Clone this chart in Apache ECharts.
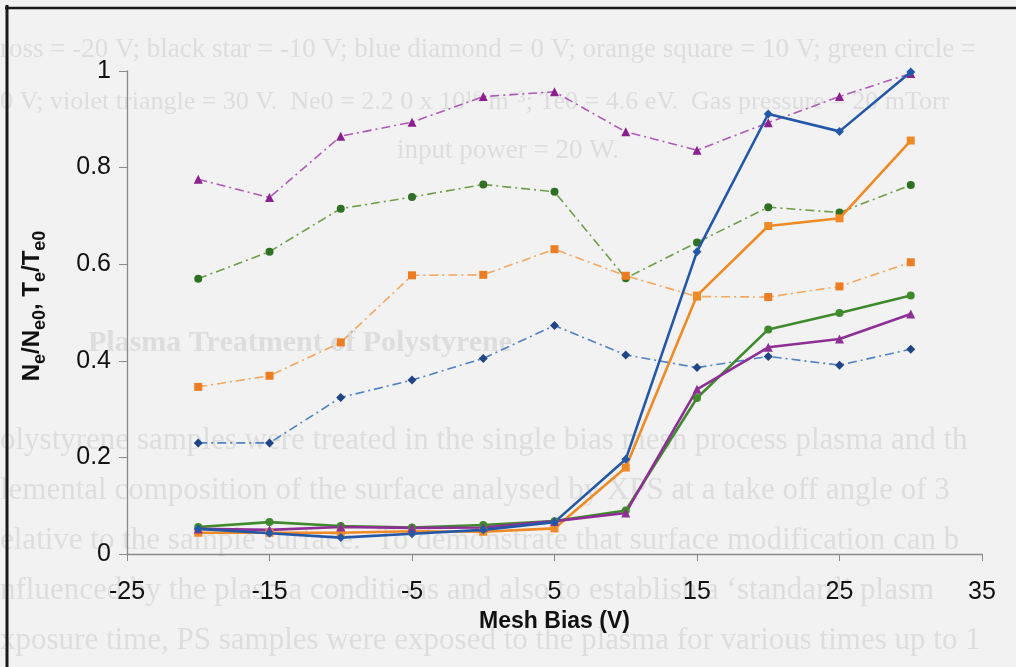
<!DOCTYPE html>
<html>
<head>
<meta charset="utf-8">
<script src="https://cdn.jsdelivr.net/npm/echarts@6/dist/echarts.min.js"></script>
<style>
html,body{margin:0;padding:0;background:#f2f2f2;}
#c{width:1016px;height:667px;}
</style>
</head>
<body>
<div id="c"></div>
<script>
var bias = [-20, -15, -10, -5, 0, 5, 10, 15, 20, 25, 30];
var xTicks = [-25, -15, -5, 5, 15, 25, 35];
var yTicks = [0, 0.2, 0.4, 0.6, 0.8, 1];

// Solid lines: Ne/Ne0
var neBlue   = [0.052, 0.043, 0.034, 0.042, 0.050, 0.066, 0.196, 0.626, 0.911, 0.875, 0.998];
var neOrange = [0.044, 0.044, 0.044, 0.047, 0.046, 0.053, 0.179, 0.535, 0.679, 0.695, 0.856];
var neGreen  = [0.056, 0.066, 0.058, 0.055, 0.060, 0.068, 0.090, 0.323, 0.465, 0.499, 0.535];
var nePurple = [0.052, 0.050, 0.056, 0.054, 0.055, 0.068, 0.085, 0.341, 0.428, 0.445, 0.497];

// Dash-dot lines: Te/Te0
var teBlue   = [0.230, 0.230, 0.324, 0.360, 0.405, 0.473, 0.412, 0.386, 0.409, 0.391, 0.424];
var teOrange = [0.346, 0.369, 0.438, 0.577, 0.578, 0.631, 0.576, 0.533, 0.532, 0.554, 0.604];
var teGreen  = [0.570, 0.626, 0.715, 0.739, 0.765, 0.750, 0.571, 0.645, 0.718, 0.707, 0.764];
var tePurple = [0.776, 0.738, 0.865, 0.894, 0.947, 0.957, 0.874, 0.836, 0.893, 0.947, 0.995];

// Faint show-through text of the scanned page behind the chart
var ghostLines = [
  "ross = -20 V; black star = -10 V; blue diamond = 0 V; orange square = 10 V; green circle =",
  "0 V; violet triangle = 30 V.  Ne0 = 2.2 0 x 10\u00b9\u2076 m\u207b\u00b3; Te0 = 4.6 eV.  Gas pressure = 20 mTorr",
  "input power = 20 W.",
  "Plasma Treatment of Polystyrene",
  "olystyrene samples were treated in the single bias mesh process plasma and th",
  "lemental composition of the surface analysed by XPS at a take off angle of 3",
  "elative to the sample surface.  To demonstrate that surface modification can b",
  "nfluenced by the plasma conditions and also to establish a \u2018standard\u2019 plasm",
  "xposure time, PS samples were exposed to the plasma for various times up to 1"
];

function pairs(ys){ return bias.map(function(x,i){ return [x, ys[i]]; }); }

var dashDot = [9, 4, 2, 4];

function solid(name, data, color, symbol, size){
  return {name:name, type:'line', data:pairs(data), symbol:symbol, symbolSize:size,
    lineStyle:{color:color, width:2.6}, itemStyle:{color:color}, z:5, animation:false};
}
function dashed(name, data, lineColor, markColor, symbol, size){
  return {name:name, type:'line', data:pairs(data), symbol:symbol, symbolSize:size,
    lineStyle:{color:lineColor, width:1.6, type:dashDot}, itemStyle:{color:markColor}, z:4, animation:false};
}

var ghostPos = [
  {x:0, y:51, size:27, bold:false, center:false},
  {x:0, y:103, size:26, bold:false, center:false},
  {x:505, y:152, size:27, bold:false, center:true},
  {x:88, y:345, size:30, bold:true, center:false},
  {x:0, y:442, size:31, bold:false, center:false},
  {x:0, y:492, size:31, bold:false, center:false},
  {x:0, y:542, size:31, bold:false, center:false},
  {x:0, y:592, size:31, bold:false, center:false},
  {x:0, y:642, size:31, bold:false, center:false}
];

var graphics = ghostLines.map(function(t, i){
  var p = ghostPos[i];
  return {type:'text', left: p.center ? 'center' : p.x, top: p.y - p.size*0.55, z:-10, silent:true,
    style:{text:t, fill:'#dddddd', font:(p.bold?'bold ':'') + p.size + 'px "Liberation Serif"'}};
});
graphics.push({type:'line', shape:{x1:7, y1:5, x2:7, y2:667}, style:{stroke:'#1a1a1a', lineWidth:3}, z:10});
graphics.push({type:'line', shape:{x1:5, y1:8, x2:1016, y2:8}, style:{stroke:'#1a1a1a', lineWidth:2.5}, z:10});
graphics.push({type:'text', x:32, y:306, rotation:Math.PI/2, z:10,
  style:{text:'{b|N}{s|e}{b|/N}{s|e0}{b|, T}{s|e}{b|/T}{s|e0}', align:'center', verticalAlign:'middle',
    rich:{b:{font:'bold 24px "Liberation Sans"', fill:'#111', lineHeight:34, verticalAlign:'middle'},
          s:{font:'bold 18px "Liberation Sans"', fill:'#111', lineHeight:18, verticalAlign:'bottom'}}}});

var chart = echarts.init(document.getElementById('c'));
chart.setOption({
  backgroundColor:'#f2f2f2',
  animation:false,
  grid:{left:127, right:34, top:71, bottom:113, containLabel:false},
  xAxis:{type:'value', min:xTicks[0], max:xTicks[xTicks.length-1], interval:10,
    name:'Mesh Bias (V)', nameLocation:'middle', nameGap:56,
    nameTextStyle:{fontFamily:'Liberation Sans', fontWeight:'bold', fontSize:23, color:'#111'},
    axisLine:{onZero:false, lineStyle:{color:'#8a8a8a', width:1.3}},
    axisTick:{show:true, length:7, lineStyle:{color:'#8a8a8a'}},
    splitLine:{show:false},
    axisLabel:{fontFamily:'Liberation Sans', fontSize:25, color:'#111', margin:26}},
  yAxis:{type:'value', min:yTicks[0], max:yTicks[yTicks.length-1], interval:0.2,
    axisLine:{show:true, onZero:false, lineStyle:{color:'#8a8a8a', width:1.3}},
    axisTick:{show:true, length:8, lineStyle:{color:'#8a8a8a'}},
    splitLine:{show:false},
    axisLabel:{fontFamily:'Liberation Sans', fontSize:25, color:'#111', margin:16,
      formatter:function(v){ return v===0||v===1 ? String(v) : v.toFixed(1); }}},
  graphic:graphics,
  series:[
    dashed('Te 30', tePurple, '#b05ab8', '#8a1f8f', 'triangle', 9),
    dashed('Te 20', teGreen, '#6f9e48', '#2f7025', 'circle', 8),
    dashed('Te 10', teOrange, '#f2a860', '#ec7d22', 'rect', 8),
    dashed('Te 0', teBlue, '#4f82c2', '#1f4586', 'diamond', 9),
    solid('Ne 10', neOrange, '#f08a24', 'rect', 8),
    solid('Ne 20', neGreen, '#3f8a2c', 'circle', 8),
    solid('Ne 30', nePurple, '#8e2f96', 'triangle', 9),
    solid('Ne 0', neBlue, '#2358a8', 'diamond', 9)
  ]
});
</script>
</body>
</html>
